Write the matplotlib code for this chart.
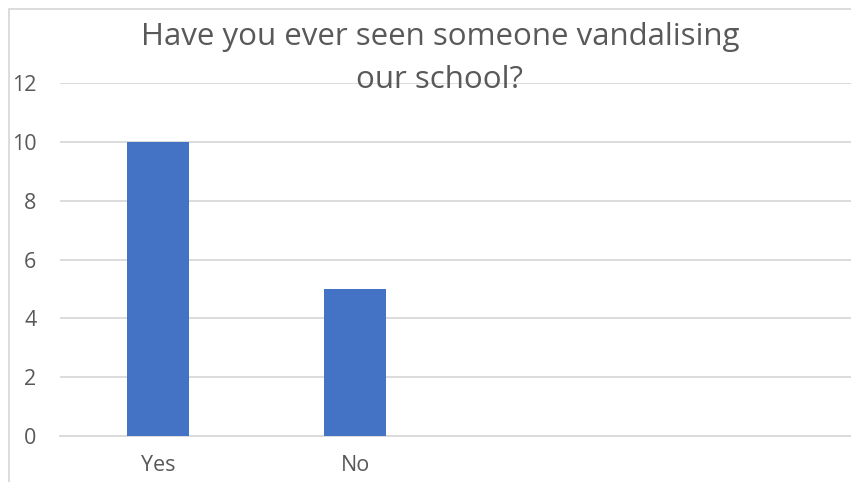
import matplotlib
matplotlib.use("Agg")
import matplotlib.pyplot as plt
from matplotlib.patches import Rectangle

categories = ["Yes", "No", "", ""]
values = [10, 5, 0, 0]
yticks = [0, 2, 4, 6, 8, 10, 12]
title = "Have you ever seen someone vandalising\nour school?"

W, H = 851, 482
fig = plt.figure(figsize=(W / 100, H / 100), dpi=100)
fig.patch.set_facecolor("white")

# chart border (light gray)
fig.add_artist(Rectangle((8.5 / W, -0.1), 1.2, (H - 8.5) / H + 0.1, transform=fig.transFigure,
                         fill=False, edgecolor="#d9d9d9", linewidth=1.3))

left, right = 60 / W, 1.0
bottom, top = (H - 436) / H, (H - 83) / H
ax = fig.add_axes([left, bottom, right - left, top - bottom])
ax.set_facecolor("none")

xs = list(range(len(categories)))
ax.bar(xs, values, width=0.315, color="#4472c4", zorder=3)
ax.set_xlim(-0.5, len(categories) - 0.5 + 0.02)
ax.set_ylim(0, 12)
ax.set_yticks(yticks)
ax.set_xticks(xs)
ax.set_xticklabels(categories)
ax.yaxis.grid(True, color="#d9d9d9", linewidth=1.3, zorder=0)
ax.set_axisbelow(True)
for s in ["top", "right", "left"]:
    ax.spines[s].set_visible(False)
ax.spines["bottom"].set_color("#d9d9d9")
ax.spines["bottom"].set_linewidth(1.3)
ax.tick_params(axis="both", length=0, labelsize=15.5, labelcolor="#595959")
ax.tick_params(axis="y", pad=17)
ax.tick_params(axis="x", pad=14)
for lab in ax.get_xticklabels() + ax.get_yticklabels():
    lab.set_family("Open Sans")

fig.text(440 / W, 1 - 22 / H, title, ha="center", va="top", fontsize=22.5,
         color="#595959", family="Open Sans", linespacing=1.55, zorder=5)

fig.savefig("out.png", dpi=100)
